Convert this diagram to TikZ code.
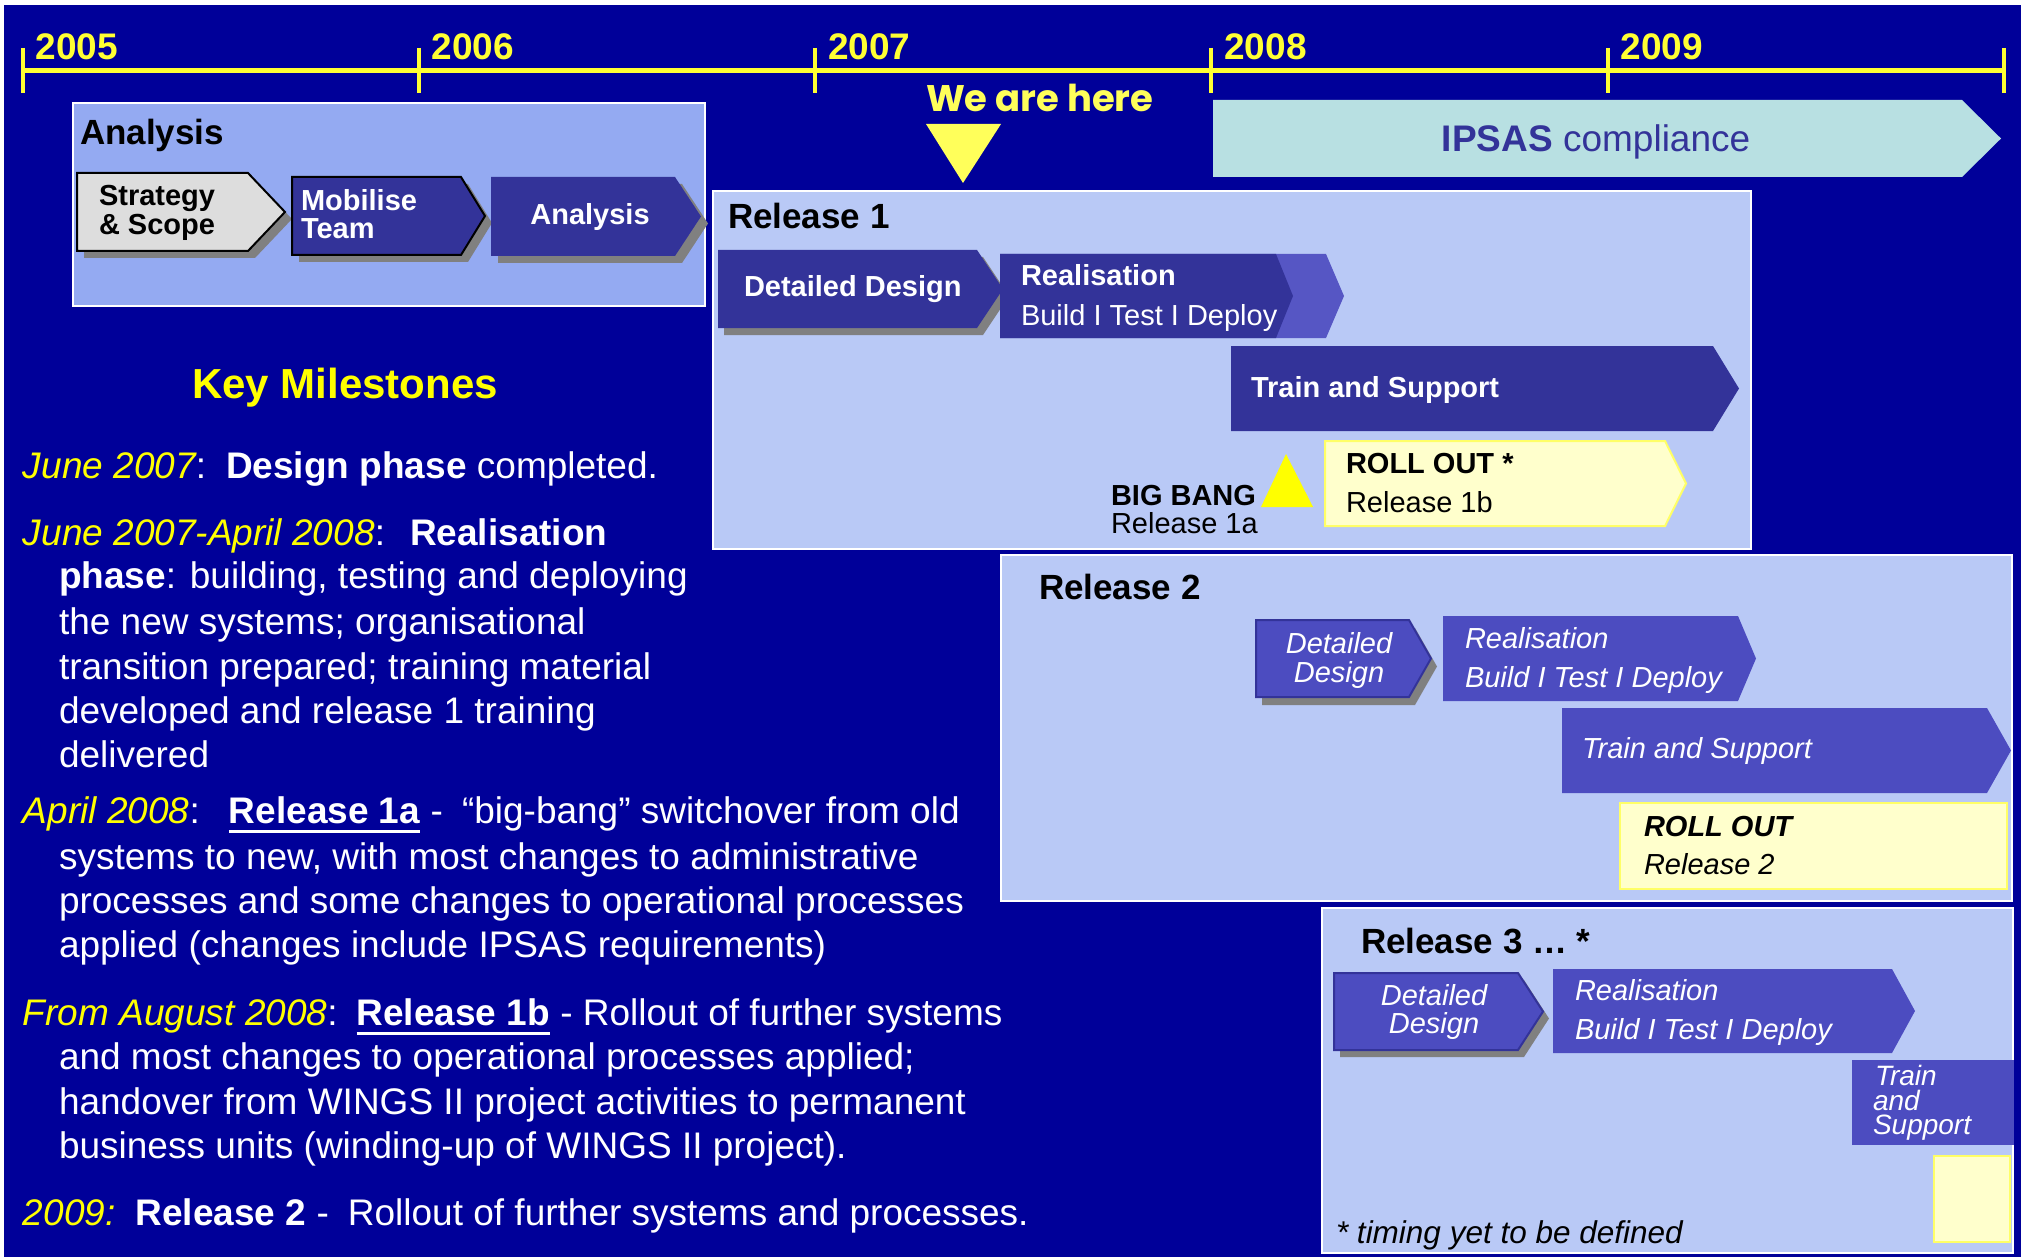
\documentclass[tikz,border=0pt]{standalone}
\usepackage{fontspec}
\setmainfont{Liberation Sans}
\newfontfamily\wefont{Poppins}
\definecolor{bg}{RGB}{0,0,153}
\definecolor{tlyellow}{RGB}{255,255,51}
\definecolor{heryellow}{RGB}{255,255,90}
\definecolor{msyellow}{RGB}{255,255,0}
\definecolor{anafill}{RGB}{148,170,242}
\definecolor{relfill}{RGB}{185,201,246}
\definecolor{darkchev}{RGB}{51,51,153}
\definecolor{medchev}{RGB}{76,76,192}
\definecolor{lightchev}{RGB}{86,86,196}
\definecolor{ipsasfill}{RGB}{184,224,226}
\definecolor{rollfill}{RGB}{255,255,204}
\definecolor{rollborder}{RGB}{255,255,102}
\definecolor{shadowgrey}{RGB}{128,128,128}
\definecolor{stratfill}{RGB}{221,221,221}
\newcommand\fs[1]{\fontsize{#1}{#1}\selectfont}
\newcommand\yl[1]{{\color{msyellow}\itshape #1}}
\newcommand\myul[1]{\setbox0\hbox{#1}\rlap{\raisebox{-10pt}{\color{white}\rule{\wd0}{3pt}}}\box0\relax}
\newcommand\chev[6]{\path[#1] (#2,#3) -- (#4,#3) -- (#5,{(#3+#6)/2}) -- (#4,#6) -- (#2,#6) -- cycle;}
\begin{document}
\begin{tikzpicture}[x=1pt,y=-1pt,
  t/.style={anchor=base west, inner sep=0pt, outer sep=0pt},
  tc/.style={anchor=base, inner sep=0pt, outer sep=0pt},
  panel/.style={draw=white, line width=2pt},
  ms/.style={t, text=white, font=\fs{37}},
  big/.style={font=\fs{35}\bfseries, text=black},
  lab/.style={font=\fs{29}},
  tick/.style={draw=tlyellow, line width=4pt}]
\useasboundingbox (0,0) rectangle (2021,1257);
\fill[white] (0,0) rectangle (2021,1257);
\fill[bg] (4,5) rectangle (2021,1257);

% timeline
\draw[draw=tlyellow, line width=5pt] (22.5,71) -- (2004,71);
\foreach \x in {22.5,418.8,815.1,1211.4,1607.7,2004} \draw[tick] (\x,48) -- (\x,93);
\node[t, text=tlyellow, font=\fs{37}\bfseries] (y2005) at (35.5,60) {2005};
\node[t, text=tlyellow, font=\fs{37}\bfseries] (y2006) at (431.8,60) {2006};
\node[t, text=tlyellow, font=\fs{37}\bfseries] (y2007) at (828.1,60) {2007};
\node[t, text=tlyellow, font=\fs{37}\bfseries] (y2008) at (1224.4,60) {2008};
\node[t, text=tlyellow, font=\fs{37}\bfseries] (y2009) at (1620.7,60) {2009};

% we are here
\node[t, text=heryellow, font=\wefont\bfseries\fs{37}] (here) at (926,112) {We are here};
\fill[heryellow] (926,124) -- (1001,124) -- (963,183) -- cycle;

% IPSAS
\fill[ipsasfill] (1213,100) -- (1962,100) -- (2001,138.5) -- (1962,177) -- (1213,177) -- cycle;
\node[tc, text=darkchev, font=\fs{37}] (ipsas) at (1596,152) {\textbf{IPSAS} compliance};

% Analysis panel
\draw[panel, fill=anafill] (73,103) rectangle (705,306);
\node[t, big] (anatitle) at (80,145) {Analysis};
\chev{fill=shadowgrey, shift={(7,7)}}{77}{173}{248}{285}{251}
\chev{fill=stratfill, draw=black, line width=2pt}{77}{173}{248}{285}{251}
\node[t, lab, font=\fs{29}\bfseries] (strat1) at (99,206) {Strategy};
\node[t, lab, font=\fs{29}\bfseries] (strat2) at (99,235) {\& Scope};
\chev{fill=shadowgrey, shift={(7,7)}}{292}{177}{461}{485}{255}
\chev{fill=darkchev, draw=black, line width=2pt}{292}{177}{461}{485}{255}
\node[t, text=white, font=\fs{29}\bfseries] (mob1) at (301,211) {Mobilise};
\node[t, text=white, font=\fs{29}\bfseries] (mob2) at (301,239) {Team};
\chev{fill=shadowgrey, shift={(7,7)}}{491}{177}{675}{701}{256}
\chev{fill=darkchev}{491}{177}{675}{701}{256}
\node[tc, text=white, font=\fs{29}\bfseries] (ana) at (590,225) {Analysis};

% Release 1
\draw[panel, fill=relfill] (713,191) rectangle (1751,549);
\node[t, big] (r1title) at (728,229) {Release 1};
\chev{fill=shadowgrey, shift={(6,7)}}{718}{250}{977}{1003}{328}
\chev{fill=darkchev}{718}{250}{977}{1003}{328}
\node[t, text=white, font=\fs{29}\bfseries] (r1dd) at (744,297) {Detailed Design};
\chev{fill=lightchev}{1000}{254}{1326}{1344}{338}
\chev{fill=darkchev}{1000}{254}{1276}{1293}{338}
\node[t, text=white, font=\fs{29}\bfseries] (r1real) at (1021,286) {Realisation};
\node[t, text=white, font=\fs{29}] (r1btd) at (1021,325) {Build I Test I Deploy};
\chev{fill=darkchev}{1231}{346}{1713}{1739}{431}
\node[t, text=white, font=\fs{29}\bfseries] (r1ts) at (1251,397) {Train and Support};
\fill[msyellow] (1286,454) -- (1313,507) -- (1261,507) -- cycle;
\node[t, font=\fs{29}\bfseries] (bb) at (1111,505) {BIG BANG};
\node[t, font=\fs{29}] (r1a) at (1111,533) {Release 1a};
\chev{fill=rollfill, draw=rollborder, line width=2pt}{1325}{441}{1665}{1686}{526}
\node[t, font=\fs{29}\bfseries] (ro1) at (1346,473) {ROLL OUT *};
\node[t, font=\fs{29}] (r1b) at (1346,512) {Release 1b};

% Release 2
\draw[panel, fill=relfill] (1001,555) rectangle (2012,901);
\node[t, big] (r2title) at (1039,599) {Release 2};
\chev{fill=shadowgrey, shift={(6,8)}}{1256}{620}{1409}{1431}{697}
\chev{fill=medchev, draw=darkchev, line width=2pt}{1256}{620}{1409}{1431}{697}
\node[tc, text=white, font=\fs{29}\itshape] (r2dd1) at (1339,653) {Detailed};
\node[tc, text=white, font=\fs{29}\itshape] (r2dd2) at (1339,682) {Design};
\chev{fill=medchev}{1443}{616}{1738}{1756}{701}
\node[t, text=white, font=\fs{29}\itshape] (r2real) at (1465,648) {Realisation};
\node[t, text=white, font=\fs{29}\itshape] (r2btd) at (1465,687) {Build I Test I Deploy};
\chev{fill=medchev}{1562}{708}{1987}{2011}{793}
\node[t, text=white, font=\fs{29}\itshape] (r2ts) at (1582,758) {Train and Support};
\draw[fill=rollfill, draw=rollborder, line width=2pt] (1620,803) rectangle (2007,889);
\node[t, font=\fs{29}\bfseries\itshape] (ro2) at (1644,836) {ROLL OUT};
\node[t, font=\fs{29}\itshape] (r2rel) at (1644,874) {Release 2};

% Release 3
\draw[panel, fill=relfill] (1322,908) rectangle (2013,1253);
\node[t, big] (r3title) at (1361,953) {Release 3 … *};
\chev{fill=shadowgrey, shift={(6,7)}}{1334}{973}{1518}{1543}{1050}
\chev{fill=medchev, draw=darkchev, line width=2pt}{1334}{973}{1518}{1543}{1050}
\node[tc, text=white, font=\fs{29}\itshape] (r3dd1) at (1434,1005) {Detailed};
\node[tc, text=white, font=\fs{29}\itshape] (r3dd2) at (1434,1033) {Design};
\chev{fill=medchev}{1553}{969}{1892}{1915}{1053}
\node[t, text=white, font=\fs{29}\itshape] (r3real) at (1575,1000) {Realisation};
\node[t, text=white, font=\fs{29}\itshape] (r3btd) at (1575,1039) {Build I Test I Deploy};
\fill[medchev] (1852,1060) rectangle (2014,1145);
\node[t, text=white, font=\fs{28}\itshape] (r3ts1) at (1875,1085) {Train};
\node[t, text=white, font=\fs{28}\itshape] (r3ts2) at (1873,1110) {and};
\node[t, text=white, font=\fs{28}\itshape] (r3ts3) at (1873,1134) {Support};
\draw[fill=rollfill, draw=rollborder, line width=2pt] (1934,1156) rectangle (2010,1242);
\node[t, font=\fs{31.5}\itshape] (timing) at (1336,1243) {* timing yet to be defined};

% Key milestones
\node[tc, text=msyellow, font=\fs{42}\bfseries] (km) at (345,398) {Key Milestones};
\node[ms] (m1) at (23,478) {\yl{June 2007}:\hspace{20pt}\textbf{Design phase} completed.};
\node[ms] (m2) at (23,545) {\yl{June 2007-April 2008}:\hspace{25pt}\textbf{Realisation}};
\node[ms] (m3) at (59,588) {\textbf{phase}: building, testing and deploying};
\node[ms] (m4) at (59,634) {the new systems; organisational};
\node[ms] (m5) at (59,679) {transition prepared; training material};
\node[ms] (m6) at (59,723) {developed and release 1 training};
\node[ms] (m7) at (59,767) {delivered};
\node[ms] (m8) at (23,823) {\yl{April 2008}:\hspace{29pt}\myul{\textbf{Release 1a}} -\hspace{19pt}“big-bang” switchover from old};
\node[ms] (m9) at (59,869) {systems to new, with most changes to administrative};
\node[ms] (m10) at (59,913) {processes and some changes to operational processes};
\node[ms] (m11) at (59,957) {applied (changes include IPSAS requirements)};
\node[ms] (m12) at (23,1025) {\yl{From August 2008}:\hspace{19pt}\myul{\textbf{Release 1b}} - Rollout of further systems};
\node[ms] (m13) at (59,1069) {and most changes to operational processes applied;};
\node[ms] (m14) at (59,1114) {handover from WINGS II project activities to permanent};
\node[ms] (m15) at (59,1158) {business units (winding-up of WINGS II project).};
\node[ms] (m16) at (23,1225) {\yl{2009:}\hspace{20pt}\textbf{Release 2} -\hspace{19pt}Rollout of further systems and processes.};
\end{tikzpicture}
\end{document}
